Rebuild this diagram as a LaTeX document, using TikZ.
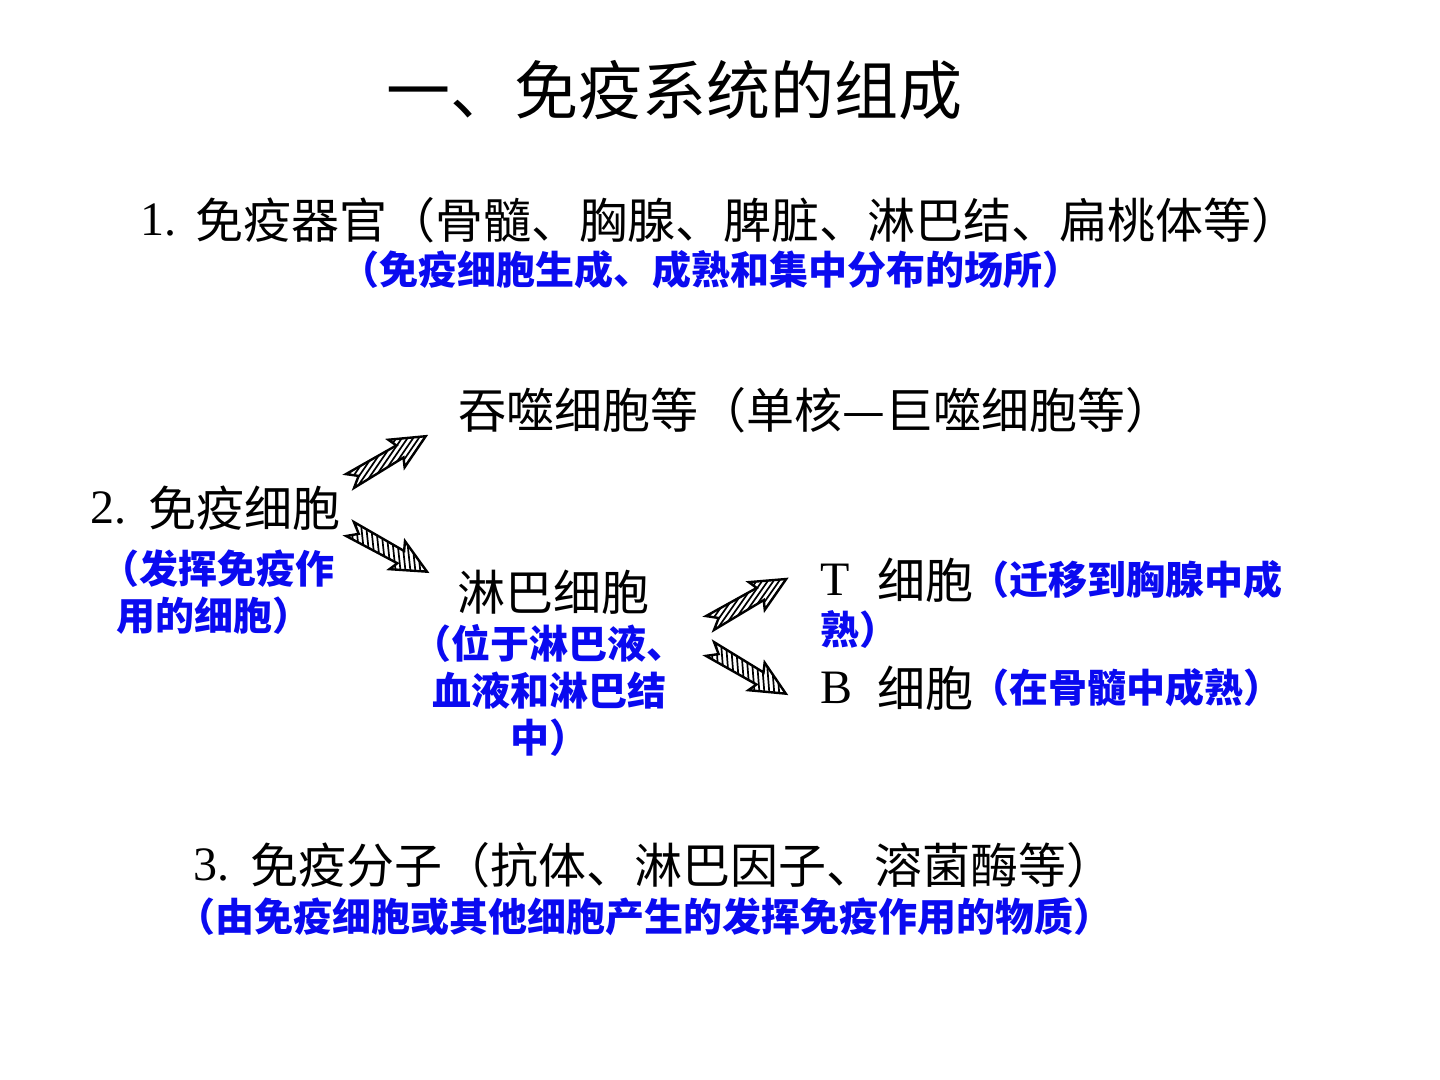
\documentclass[tikz,border=0pt]{standalone}
\usepackage{fontspec}
\setmainfont{Liberation Serif}
\newfontfamily\cjk{Noto Sans CJK SC}
\definecolor{noteblue}{RGB}{10,10,240}
% #1,#2 tail position, #3 angle, #4 hatch line: start y, #5 hatch x-run, #6 step
\newcommand\hatcharrow[6]{%
  \begin{scope}[shift={(#1,#2)}, rotate=#3]
    \begin{scope}
      \clip (0,8) -- (58,7) -- (54,16) -- (88,0) -- (54,-16) -- (58,-7) -- (0,-8) -- (10,0) -- cycle;
      \foreach \i in {-120,-\the\numexpr120-#6\relax,...,100} \draw[line width=0.85pt] (\i,#4) -- (\i+#5,-#4);
    \end{scope}
    \draw[line width=1.2pt, line join=miter] (0,8) -- (58,7) -- (54,16) -- (88,0) -- (54,-16) -- (58,-7) -- (0,-8) -- (10,0) -- cycle;
  \end{scope}}
\begin{document}
\begin{tikzpicture}[x=0.5pt,y=-0.5pt,
  txt/.style={inner sep=0pt, anchor=west, font=\cjk\fontsize{24}{28}\selectfont},
  num/.style={inner sep=0pt, anchor=west, font=\fontsize{24}{28}\selectfont},
  note/.style={inner sep=0pt, anchor=west, text=noteblue, align=left, font=\cjk\bfseries\fontsize{19.5}{23.5}\selectfont},
  ttl/.style={inner sep=0pt, anchor=west, font=\cjk\fontsize{32}{36}\selectfont}]
\useasboundingbox[fill=white] (0,0) rectangle (1440,1080);
% title
\node[ttl] (title) at (386,90) {一、免疫系统的组成};
% 1
\node[num] (n1) at (140,220) {1.};
\node[txt] (organ) at (195,220) {免疫器官（骨髓、胸腺、脾脏、淋巴结、扁桃体等）};
\node[note] (organnote) at (340,270) {（免疫细胞生成、成熟和集中分布的场所）};
% 2
\node[num] (n2) at (90,508) {2.};
\node[txt] (cell) at (148,508) {免疫细胞};
\node[note] (cellnote) at (116,592) {\hspace*{-8pt}（发挥免疫作\\用的细胞）};
\node[txt] (phago) at (458,410) {吞噬细胞等（单核—巨噬细胞等）};
\node[txt, anchor=center] (lymph) at (553,592) {淋巴细胞};
\node[note, anchor=center, align=center] (lymphnote) at (549,690) {（位于淋巴液、\\血液和淋巴结\\中）};
\node[num] (tl) at (820,580) {T};
\node[txt] (tcell) at (877,580) {细胞};
\node[note] (tnote) at (970,580) {（迁移到胸腺中成};
\node[note] (tnote2) at (820,630) {熟）};
\node[num] (bl) at (820,688) {B};
\node[txt] (bcell) at (877,688) {细胞};
\node[note] (bnote) at (970,688) {（在骨髓中成熟）};
% arrows
\hatcharrow{350}{481}{30.6}{20}{86}{11}
\hatcharrow{350}{529}{-29}{-20}{28}{6}
\hatcharrow{710}{623}{30}{20}{86}{11}
\hatcharrow{710}{649}{-30.5}{-20}{28}{6}
% 3
\node[num] (n3) at (193,865) {3.};
\node[txt] (mol) at (250,865) {免疫分子（抗体、淋巴因子、溶菌酶等）};
\node[note] (molnote) at (176,917) {（由免疫细胞或其他细胞产生的发挥免疫作用的物质）};
\end{tikzpicture}
\end{document}
